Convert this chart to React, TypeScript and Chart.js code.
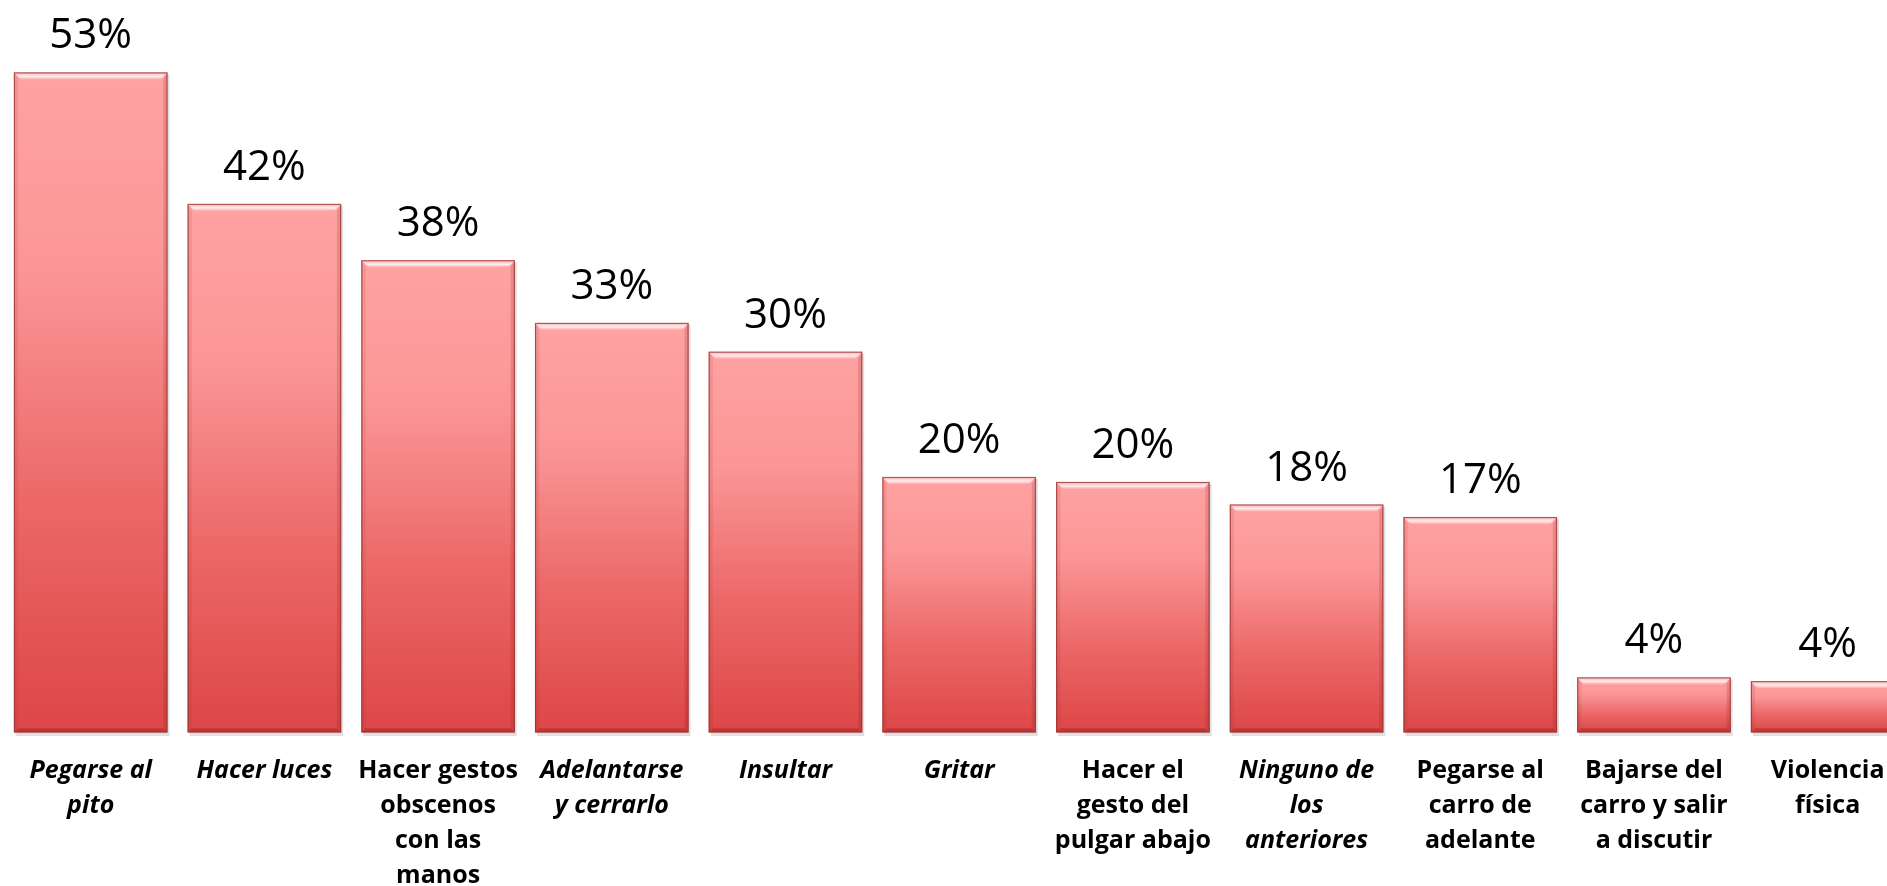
import React, { useEffect, useRef } from "react";
import { Chart, registerables } from "chart.js";

Chart.register(...registerables);

const categories: string[][] = [
  ["Pegarse al", "pito"],
  ["Hacer luces"],
  ["Hacer gestos", "obscenos", "con las", "manos"],
  ["Adelantarse", "y cerrarlo"],
  ["Insultar"],
  ["Gritar"],
  ["Hacer el", "gesto del", "pulgar abajo"],
  ["Ninguno de", "los", "anteriores"],
  ["Pegarse al", "carro de", "adelante"],
  ["Bajarse del", "carro y salir", "a discutir"],
  ["Violencia", "física"],
];

const italicLabels: boolean[] = [true, true, false, true, true, true, false, true, false, false, false];

const values: number[] = [52.7, 42.2, 37.7, 32.7, 30.4, 20.4, 20.0, 18.2, 17.2, 4.4, 4.1];

const valueLabelPlugin = {
  id: "valueLabels",
  afterDatasetsDraw(chart: any) {
    const ctx = chart.ctx;
    const meta = chart.getDatasetMeta(0);
    ctx.save();
    meta.data.forEach((bar: any) => {
      const w = bar.width;
      const left = bar.x - w / 2;
      const right = bar.x + w / 2;
      const top = bar.y;
      const bottom = bar.base;
      const b = 7;
      ctx.beginPath();
      ctx.moveTo(left, top);
      ctx.lineTo(right, top);
      ctx.lineTo(right - b, top + b);
      ctx.lineTo(left + b, top + b);
      ctx.closePath();
      const hg = ctx.createLinearGradient(0, top, 0, top + b);
      hg.addColorStop(0, "rgba(255,235,235,0.35)");
      hg.addColorStop(0.6, "rgba(255,255,255,0.8)");
      hg.addColorStop(1, "rgba(255,220,220,0.2)");
      ctx.fillStyle = hg;
      ctx.fill();
      ctx.beginPath();
      ctx.moveTo(left, top);
      ctx.lineTo(left + b * 0.6, top + b);
      ctx.lineTo(left + b * 0.6, bottom - b * 0.6);
      ctx.lineTo(left, bottom);
      ctx.closePath();
      ctx.fillStyle = "rgba(160,40,40,0.12)";
      ctx.fill();
      ctx.beginPath();
      ctx.moveTo(right, top);
      ctx.lineTo(right - b * 0.6, top + b);
      ctx.lineTo(right - b * 0.6, bottom - b * 0.6);
      ctx.lineTo(right, bottom);
      ctx.closePath();
      ctx.fillStyle = "rgba(140,30,30,0.18)";
      ctx.fill();
      ctx.beginPath();
      ctx.moveTo(left, bottom);
      ctx.lineTo(right, bottom);
      ctx.lineTo(right - b * 0.6, bottom - b * 0.6);
      ctx.lineTo(left + b * 0.6, bottom - b * 0.6);
      ctx.closePath();
      ctx.fillStyle = "rgba(120,20,20,0.3)";
      ctx.fill();
      ctx.strokeStyle = "rgba(150,50,50,0.75)";
      ctx.lineWidth = 1.2;
      ctx.strokeRect(left + 0.5, top + 0.5, w - 1, bottom - top - 1);
    });
    ctx.fillStyle = "#000000";
    ctx.font = "42px 'Open Sans'";
    ctx.textAlign = "center";
    ctx.textBaseline = "alphabetic";
    meta.data.forEach((bar: any, i: number) => {
      const v = chart.data.datasets[0].data[i] as number;
      ctx.fillText(Math.round(v) + "%", bar.x, bar.y - 24);
    });
    ctx.restore();
  },
};

const shadowPlugin = {
  id: "barShadow",
  beforeDatasetsDraw(chart: any) {
    const ctx = chart.ctx;
    const meta = chart.getDatasetMeta(0);
    ctx.save();
    meta.data.forEach((bar: any) => {
      const w = bar.width;
      ctx.fillStyle = "rgba(0,0,0,0.12)";
      ctx.fillRect(bar.x - w / 2 + 2, bar.y + 2, w, bar.base - bar.y + 1.5);
    });
    ctx.restore();
  },
};

export default function App() {
  const canvasRef = useRef<HTMLCanvasElement | null>(null);

  useEffect(() => {
    if (!canvasRef.current) return;
    const chart = new Chart(canvasRef.current, {
      type: "bar",
      data: {
        labels: categories,
        datasets: [
          {
            data: values,
            backgroundColor: (c: any) => {
              const ch = c.chart;
              const ys = ch.scales && ch.scales.y;
              if (!ys || c.raw === undefined) return "#EE6A6A";
              const top = ys.getPixelForValue(c.raw);
              const bottom = ys.getPixelForValue(0);
              if (!isFinite(top) || !isFinite(bottom) || top === bottom) return "#EE6A6A";
              const g = ch.ctx.createLinearGradient(0, top, 0, bottom);
              g.addColorStop(0, "#FFA2A2");
              g.addColorStop(0.3, "#FB9696");
              g.addColorStop(0.65, "#EC6868");
              g.addColorStop(1, "#DD4646");
              return g;
            },
            borderWidth: 0,
            categoryPercentage: 1,
            barPercentage: 0.884,
          },
        ],
      },
      options: {
        animation: false,
        responsive: true,
        maintainAspectRatio: false,
        layout: { padding: { left: 3.85, right: 3.5, top: 6, bottom: 0 } },
        plugins: {
          legend: { display: false },
          tooltip: { enabled: false },
        },
        scales: {
          x: {
            grid: { display: false, drawTicks: false },
            border: { display: false },
            afterFit: (scale: any) => {
              scale.height = 153.5;
            },
            ticks: {
              autoSkip: false,
              maxRotation: 0,
              minRotation: 0,
              padding: 21,
              color: "#000000",
              font: (c: any) => ({
                family: "'Open Sans'",
                size: 25,
                weight: "bold",
                style: italicLabels[c.index] ? "italic" : "normal",
                lineHeight: "35px",
              }),
            },
          },
          y: {
            display: false,
            min: 0,
            max: 58,
          },
        },
      },
      plugins: [shadowPlugin, valueLabelPlugin],
    });
    return () => chart.destroy();
  }, []);

  return (
    <div
      style={{
        position: "fixed",
        left: 0,
        top: 0,
        width: 1887,
        height: 886,
        overflow: "hidden",
        background: "#ffffff",
      }}
    >
      <div style={{ position: "relative", width: 1918, height: 886 }}>
        <canvas ref={canvasRef} />
      </div>
    </div>
  );
}
